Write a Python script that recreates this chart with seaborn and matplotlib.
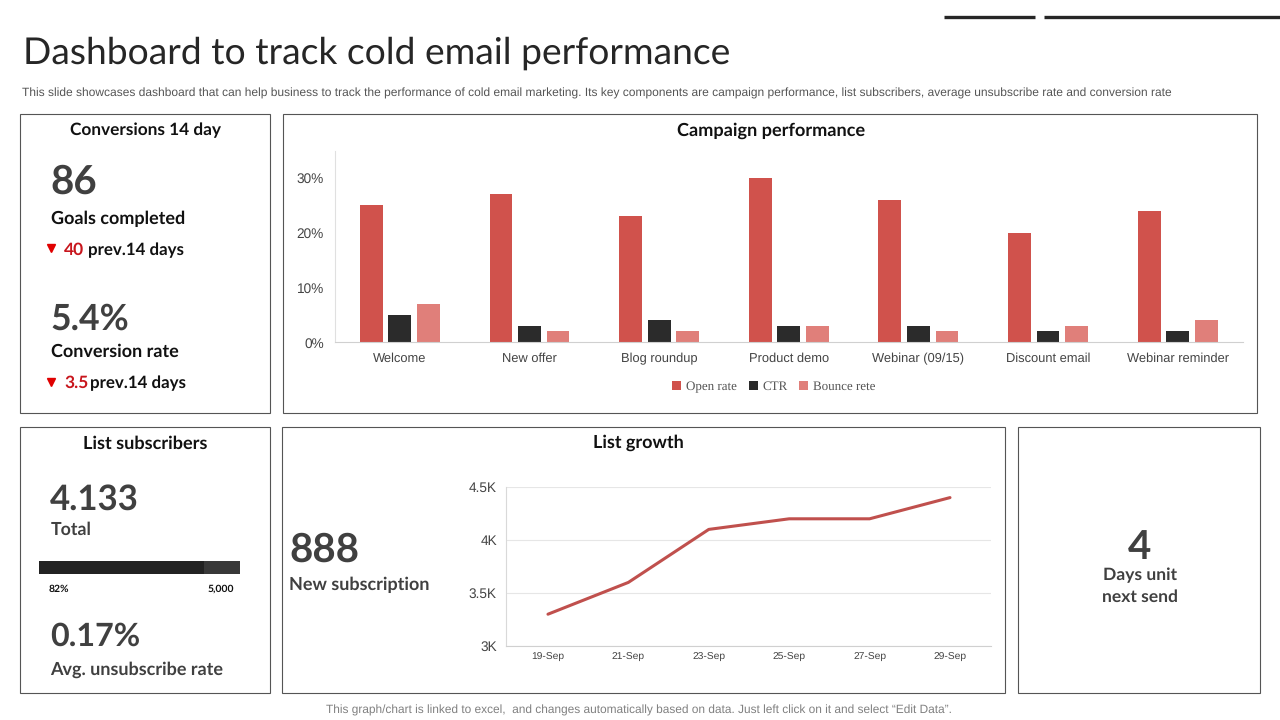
import matplotlib
matplotlib.use("Agg")
import matplotlib.pyplot as plt
from matplotlib.patches import Rectangle
import pandas as pd
import seaborn as sns

W, H = 1280, 720

campaigns = ["Welcome", "New offer", "Blog roundup", "Product demo",
             "Webinar (09/15)", "Discount email", "Webinar reminder"]
open_rate = [25, 27, 23, 30, 26, 20, 24]
ctr = [5, 3, 4, 3, 3, 2, 2]
bounce_rate = [7, 2, 2, 3, 2, 3, 4]

growth_dates = ["19-Sep", "21-Sep", "23-Sep", "25-Sep", "27-Sep", "29-Sep"]
growth_values = [3300, 3600, 4100, 4200, 4200, 4400]

list_total = 5000
list_share = 82

RED = "#d0524c"
DARK = "#2b2b2b"
PINK = "#e07f7a"
HEAD = "Lato"
BODY = "Liberation Sans"

sns.set_theme(style="white")
plt.rcParams["font.family"] = [HEAD, "DejaVu Sans"]
plt.rcParams["text.hinting"] = "no_hinting"


def px_axes(fig, left, top, right, bottom):
    return fig.add_axes([left / W, 1 - bottom / H, (right - left) / W, (bottom - top) / H])


fig = plt.figure(figsize=(12.8, 7.2), dpi=100)

# page layer in pixel coordinates, for frames and text
page = fig.add_axes([0, 0, 1, 1])
page.set_xlim(0, W)
page.set_ylim(H, 0)
page.axis("off")

page.plot([944, 1035], [17, 17], color="#262626", lw=2.4, solid_capstyle="butt")
page.plot([1044, 1280], [17, 17], color="#262626", lw=2.4, solid_capstyle="butt")

page.text(23, 53, "Dashboard to track cold email performance", fontsize=26.8, color="#262626",
          va="center", ha="left")
page.text(22, 93.5, "This slide showcases dashboard that can help business to track the performance of cold email "
          "marketing. Its key components are campaign performance, list subscribers, average unsubscribe rate "
          "and conversion rate", fontsize=8.62, color="#555555", family=BODY, va="center")
page.text(639, 710.5, "This graph/chart is linked to excel,  and changes automatically based on data. Just left click "
          "on it and select \u201cEdit Data\u201d.", fontsize=8.58, color="#808080", family=BODY, va="center", ha="center")

for x0, y0, x1, y1 in [(20, 114, 270.5, 413), (283, 114, 1257.5, 413), (20, 427, 270.5, 693),
                       (282, 427, 1005.5, 693), (1018, 427, 1260.5, 693)]:
    page.add_patch(Rectangle((x0 - 0.5, y0 - 0.5), x1 - x0, y1 - y0, fill=False, ec="#555555", lw=0.8))


def label(x, y, s, size=13, color="#111111", ha="left", weight="bold"):
    page.text(x, y + 1, s, fontsize=size, color=color, ha=ha, va="center", weight=weight)


def big(x, y, s, size=29, ha="left"):
    page.text(x, y + 3, s, fontsize=size, color=NUM, ha=ha, va="center", weight="bold")


NUM = "#404040"
label(145, 129, "Conversions 14 day", 12.4, ha="center")
big(50, 179, "86")
label(51, 218, "Goals completed")
label(64, 249, "40", 12.5, "#c8161d")
label(88, 249, "prev.14 days", 12.2)
big(50, 316, "5.4%", 25.6)
label(51, 351, "Conversion rate")
label(64, 382, "3.5", 12.5, "#c8161d")
label(90, 382, "prev.14 days", 12.2)
page.plot([51, 51], [248, 382], ls="none", marker="v", ms=5.5, color="#e00000")

label(145, 443, "List subscribers", 13.1, ha="center")
big(50, 497, "4.133", 25)
label(51, 529, "Total", 12.8, NUM)
label(49, 588, "82%", 7.5, ha="left")
label(234, 588, "5,000", 7.5, ha="right")
big(50, 634, "0.17%", 23.2)
label(50.5, 669, "Avg. unsubscribe rate", 13, NUM)

label(638, 442, "List growth", 13, ha="center")
big(289, 547, "888")
label(289, 584, "New subscription", 13, NUM)

big(1140, 544, "4", ha="center")
label(1140, 574, "Days unit", 12.6, NUM, ha="center")
label(1140, 596, "next send", 12.6, NUM, ha="center")

label(771, 130, "Campaign performance", 13.1, ha="center")

# campaign bars
bars = pd.DataFrame({"campaign": campaigns, "Open rate": open_rate, "CTR": ctr, "Bounce rete": bounce_rate})
bars = bars.melt(id_vars="campaign", var_name="metric", value_name="rate")
ax = px_axes(fig, 335, 150.5, 1242.5, 342.3)
ax.patch.set_alpha(0)
sns.barplot(data=bars, x="campaign", y="rate", hue="metric", palette=[RED, DARK, PINK],
            width=0.66, gap=0.2, saturation=1, linewidth=0, ax=ax, legend=True)
ax.set_ylim(0, 35)
ax.set_yticks([0, 10, 20, 30])
ax.set_yticklabels(["0%", "10%", "20%", "30%"])
ax.set_xlabel("")
ax.set_ylabel("")
ax.tick_params(axis="both", length=0, labelsize=9.3, labelcolor="#444444")
ax.tick_params(axis="x", pad=7.5)
ax.tick_params(axis="y", pad=8, labelsize=9.8)
for t in ax.get_xticklabels() + ax.get_yticklabels():
    t.set_family(BODY)
sns.despine(ax=ax, top=True, right=True)
ax.spines["left"].set_color("#e0e0e0")
ax.spines["bottom"].set_color("#d0d0d0")
ax.spines["left"].set_linewidth(0.8)
ax.spines["bottom"].set_linewidth(0.8)
ax.legend(loc="center", bbox_to_anchor=(0.4835, -0.234), ncol=3, frameon=False, handlelength=0.7,
          handleheight=0.7, handletextpad=0.35, columnspacing=0.9, prop={"family": "Liberation Serif", "size": 9.4},
          labelcolor="#555555")

# list growth line
growth = pd.DataFrame({"date": growth_dates, "subs": growth_values})
ax2 = px_axes(fig, 506, 487, 991, 646)
ax2.patch.set_alpha(0)
sns.lineplot(data=growth, x="date", y="subs", color="#c0504d", lw=2.2, ax=ax2, sort=False)
ax2.set_xlim(-0.522, 5.51)
ax2.set_ylim(3000, 4500)
ax2.set_yticks([3000, 3500, 4000, 4500])
ax2.set_yticklabels(["3K", "3.5K", "4K", "4.5K"])
ax2.set_xlabel("")
ax2.set_ylabel("")
ax2.grid(axis="y", color="#e6e6e6", lw=0.8)
ax2.tick_params(axis="y", length=0, labelsize=9.8, labelcolor="#444444", pad=6.5)
ax2.tick_params(axis="x", length=0, labelsize=7.4, labelcolor="#444444", pad=5)
for t in ax2.get_xticklabels() + ax2.get_yticklabels():
    t.set_family(BODY)
sns.despine(ax=ax2, top=True, right=True)
ax2.spines["left"].set_color("#d9d9d9")
ax2.spines["bottom"].set_color("#d0d0d0")
ax2.spines["left"].set_linewidth(0.8)
ax2.spines["bottom"].set_linewidth(0.8)

# progress bar for list subscribers
ax3 = px_axes(fig, 39, 561, 240, 574)
ax3.barh([0], [100], height=1, color="#383838", linewidth=0)
ax3.barh([0], [list_share], height=1, color="#222222", linewidth=0)
ax3.set_xlim(0, 100)
ax3.set_ylim(-0.5, 0.5)
ax3.axis("off")

fig.savefig("out.png", dpi=100)
